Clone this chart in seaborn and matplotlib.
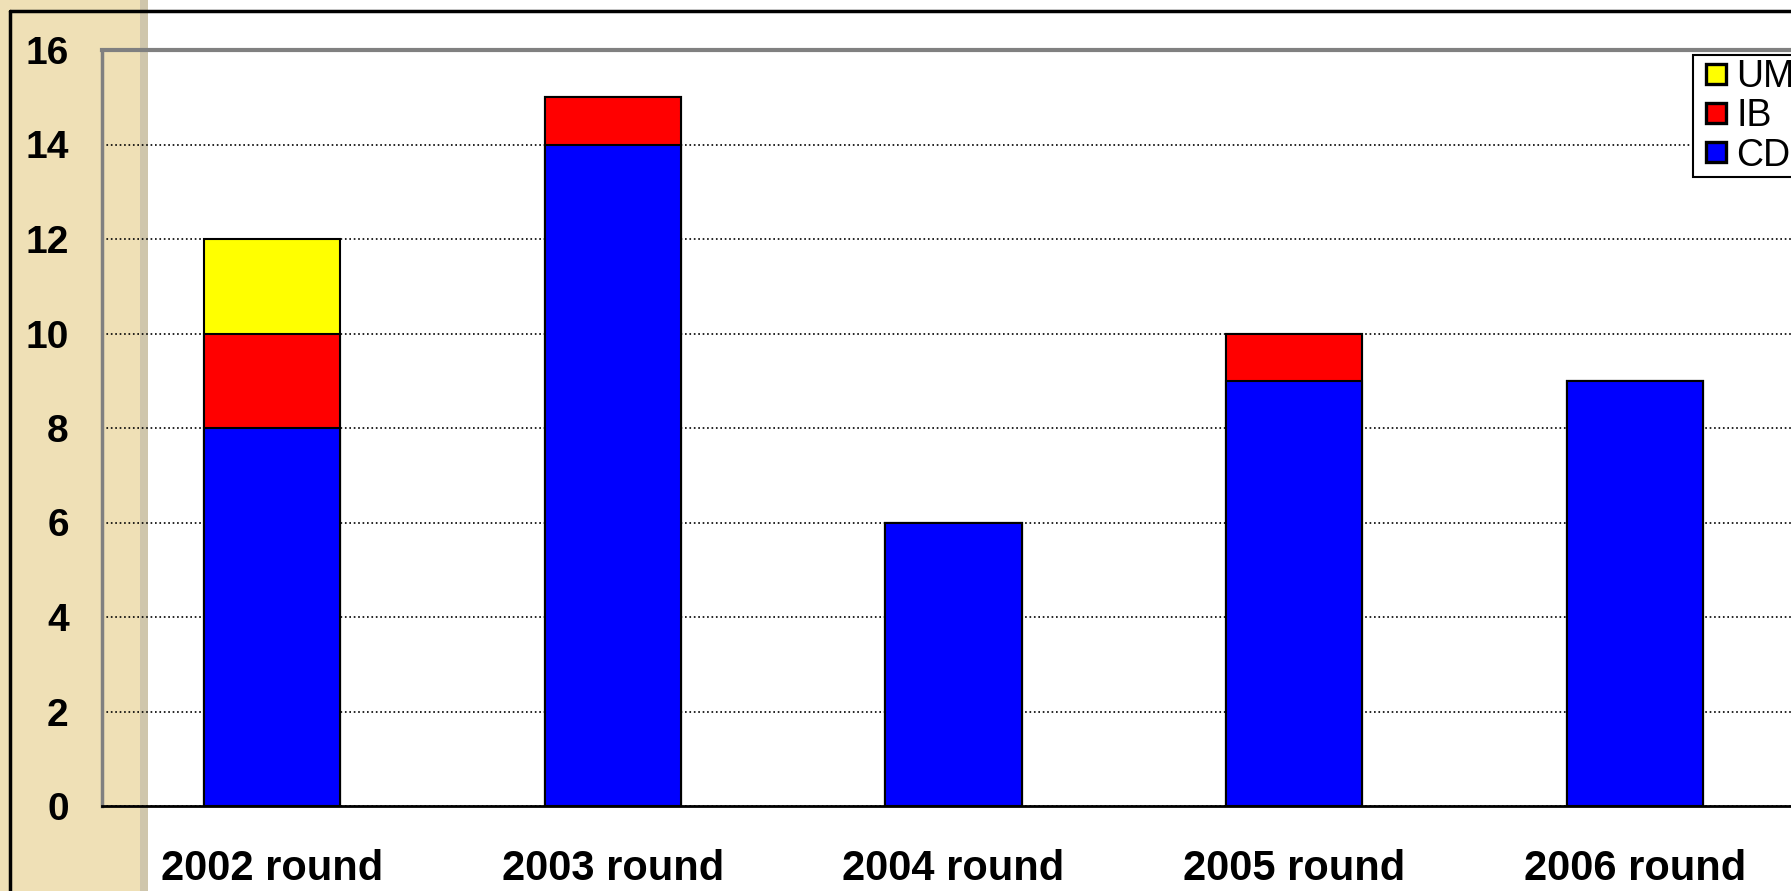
import numpy as np
import pandas as pd
import matplotlib.pyplot as plt
import seaborn as sns
from matplotlib.patches import Rectangle
from matplotlib.lines import Line2D

# Chart data
rounds = ['2002 round', '2003 round', '2004 round', '2005 round', '2006 round']
cd = [8, 14, 6, 9, 9]
ib = [2, 1, 0, 1, 0]
um = [2, 0, 0, 0, 0]
series_colors = {'UM': '#FFFF00', 'IB': '#FF0000', 'CD': '#0000FF'}

sns.set_style('white')
plt.rcParams['font.family'] = ['Liberation Sans', 'DejaVu Sans']
plt.rcParams['text.color'] = 'black'
plt.rcParams['xtick.color'] = 'black'
plt.rcParams['ytick.color'] = 'black'

df = pd.DataFrame({'round': rounds, 'CD': cd, 'IB': ib, 'UM': um})
df['CD+IB'] = df['CD'] + df['IB']
df['total'] = df['CD+IB'] + df['UM']

W, H = 1791, 891
fig = plt.figure(figsize=(W / 100, H / 100), dpi=100)
fig.patch.set_facecolor('white')

# beige strip on the left + frame lines
fig.add_artist(Rectangle((0, 0), 140 / W, 1, transform=fig.transFigure,
                         facecolor='#EFE0B6', edgecolor='none', zorder=0))
fig.add_artist(Rectangle((140 / W, 0), 8 / W, 1, transform=fig.transFigure,
                         facecolor='#CFC6AC', edgecolor='none', zorder=0))
fig.add_artist(Line2D([10 / W, 10 / W], [0, 1 - 11 / H], transform=fig.transFigure,
                      color='black', lw=2.5, zorder=1))
fig.add_artist(Line2D([10 / W, 1], [1 - 11 / H, 1 - 11 / H], transform=fig.transFigure,
                      color='black', lw=2.5, zorder=1))

ax = fig.add_axes([102 / W, 85 / H, 1703 / W, 756 / H])
ax.set_facecolor('none')

# stacked bars: draw cumulative totals back to front
bar_kw = dict(saturation=1, width=0.4, edgecolor='black', linewidth=1.5, ax=ax, zorder=3)
sns.barplot(data=df, x='round', y='total', color=series_colors['UM'], **bar_kw)
sns.barplot(data=df, x='round', y='CD+IB', color=series_colors['IB'], **bar_kw)
sns.barplot(data=df, x='round', y='CD', color=series_colors['CD'], **bar_kw)

ax.set_xlim(-0.5, 4.5)
ax.set_ylim(0, 16)
ax.set_xlabel('')
ax.set_ylabel('')

ax.set_yticks(range(0, 17, 2))
ax.yaxis.grid(True, linestyle=':', color='black', lw=1.2, zorder=0)
ax.set_axisbelow(True)
ax.tick_params(axis='y', direction='out', length=8, width=2, color='black',
               labelcolor='black', pad=16, labelsize=28)
for lbl in ax.get_yticklabels():
    lbl.set_fontweight('bold')

ax.set_xticks(range(len(rounds)))
ax.set_xticklabels(rounds, fontsize=30, fontweight='bold', color='black')
ax.set_xticks(np.arange(-0.5, len(rounds), 1), minor=True)
ax.tick_params(axis='x', which='major', length=0, pad=31)
ax.tick_params(axis='x', which='minor', direction='out', length=9, width=2, color='black')

ax.spines['left'].set_color('#808080')
ax.spines['left'].set_linewidth(2.5)
ax.spines['top'].set_color('#808080')
ax.spines['top'].set_linewidth(3)
ax.spines['bottom'].set_color('black')
ax.spines['bottom'].set_linewidth(2)
ax.spines['right'].set_visible(False)

handles = [Line2D([], [], linestyle='none', marker='s', markersize=15,
                  markerfacecolor=series_colors[k], markeredgecolor='black',
                  markeredgewidth=2.4)
           for k in ['UM', 'IB', 'CD']]
leg = fig.legend(handles, ['UM', 'IB', 'CD'], loc='upper left',
                 bbox_to_anchor=(1693 / W, 1 - 55 / H), fontsize=27,
                 frameon=True, fancybox=False, framealpha=1, edgecolor='black',
                 handlelength=1.0, handletextpad=0.05,
                 labelspacing=0.09, borderpad=0.1, borderaxespad=0)
leg.get_frame().set_linewidth(1.5)

fig.savefig('out.png', dpi=100)
